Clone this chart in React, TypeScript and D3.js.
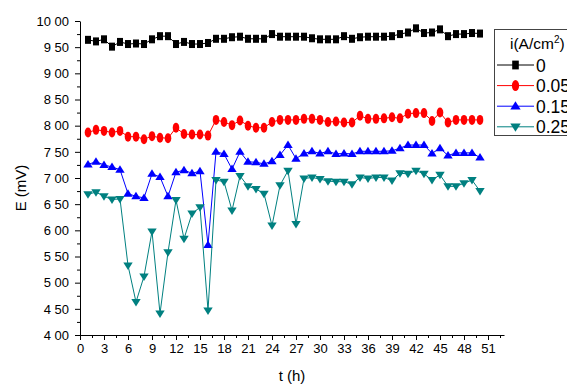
import React, { useEffect, useRef } from "react";
import * as d3 from "d3";

// time in hours
const hours = d3.range(1, 51);

// E (mV) for each current density
const e0 = [964, 961, 965, 951, 960, 956, 957, 956, 965, 971, 971, 956, 960, 956, 956, 958, 966, 966, 969, 970,
  966, 966, 966, 975, 970, 970, 970, 970, 967, 965, 965, 965, 971, 966, 969, 970, 970, 970, 971, 975,
  978, 986, 977, 978, 984, 971, 975, 975, 977, 976];
const e005 = [787, 792, 790, 787, 790, 779, 779, 774, 780, 777, 776, 796, 784, 783, 783, 781, 811, 807, 801, 810,
  800, 796, 796, 807, 811, 811, 811, 813, 813, 811, 807, 808, 806, 806, 819, 813, 813, 814, 816, 814,
  823, 824, 824, 809, 825, 806, 811, 811, 811, 811];
const e015 = [726, 731, 725, 721, 716, 670, 665, 662, 708, 702, 665, 711, 715, 709, 713, 572, 750, 746, 717, 750,
  731, 730, 727, 732, 744, 763, 737, 747, 751, 747, 751, 746, 747, 746, 751, 751, 751, 751, 752, 757,
  763, 763, 763, 747, 757, 743, 748, 748, 748, 739];
const e025 = [669, 673, 665, 659, 660, 533, 463, 512, 598, 441, 558, 658, 584, 632, 644, 447, 696, 693, 638, 704,
  684, 679, 670, 609, 686, 714, 612, 699, 701, 698, 694, 693, 693, 688, 701, 699, 701, 701, 695, 709,
  708, 714, 708, 696, 706, 684, 684, 690, 696, 675];

const seriesNames = ["0", "0.05", "0.15", "0.25"];
const seriesColors = ["#000000", "#ff0000", "#0000ff", "#008080"];
const seriesMarkers = ["square", "circle", "up", "down"];
const seriesValues = [e0, e005, e015, e025];

const xTicks = d3.range(0, 52, 3);
const yTicks = d3.range(400, 1001, 50);

const fontFamily = "'Liberation Sans', Arial, sans-serif";

function drawMarker(g: any, kind: string, cx: number, cy: number, color: string, s: number) {
  if (kind === "square") {
    g.append("rect").attr("x", cx - 3 * s).attr("y", cy - 4 * s)
      .attr("width", 6 * s).attr("height", 8 * s).attr("fill", color);
  } else if (kind === "circle") {
    g.append("ellipse").attr("cx", cx).attr("cy", cy)
      .attr("rx", 3.3 * s).attr("ry", 5 * s).attr("fill", color);
  } else if (kind === "up") {
    g.append("path")
      .attr("d", `M${cx - 4.7 * s},${cy + 3 * s}L${cx + 4.7 * s},${cy + 3 * s}L${cx},${cy - 4.5 * s}Z`)
      .attr("fill", color);
  } else {
    g.append("path")
      .attr("d", `M${cx - 4.7 * s},${cy - 3 * s}L${cx + 4.7 * s},${cy - 3 * s}L${cx},${cy + 4.5 * s}Z`)
      .attr("fill", color);
  }
}

export default function App() {
  const ref = useRef<SVGSVGElement>(null);

  useEffect(() => {
    const svg = d3.select(ref.current);
    svg.selectAll("*").remove();

    const x = d3.scaleLinear().domain([0, 53]).range([80, 504]);
    const y = d3.scaleLinear().domain([400, 1000]).range([335, 21]);

    // axes
    const xAxis = d3.axisBottom(x).tickValues(xTicks).tickSize(5).tickSizeOuter(0).tickPadding(4);
    const gx = svg.append("g").attr("transform", "translate(0,335)").call(xAxis);
    gx.selectAll("text").attr("font-size", 13).attr("font-family", fontFamily).attr("fill", "#000");

    const xMinor = d3.axisBottom(x).tickValues(d3.range(1.5, 53, 3)).tickSize(3).tickFormat(() => "").tickSizeOuter(0);
    svg.append("g").attr("transform", "translate(0,335)").call(xMinor).select(".domain").remove();

    const yAxis = d3.axisLeft(y).tickValues(yTicks).tickSize(5).tickSizeOuter(0).tickPadding(6)
      .tickFormat((d: any) => `${Math.floor(d / 100)} ${String(d % 100).padStart(2, "0")}`);
    const gy = svg.append("g").attr("transform", "translate(80,0)").call(yAxis);
    gy.selectAll("text").attr("font-size", 13).attr("font-family", fontFamily).attr("fill", "#000");

    const yMinor = d3.axisLeft(y).tickValues(d3.range(425, 1000, 50)).tickSize(3).tickFormat(() => "").tickSizeOuter(0);
    svg.append("g").attr("transform", "translate(80,0)").call(yMinor).select(".domain").remove();

    // labels
    svg.append("text").attr("x", 292).attr("y", 381).attr("text-anchor", "middle")
      .attr("font-size", 15).attr("font-family", fontFamily).text("t (h)");
    svg.append("text").attr("transform", "translate(26,188) rotate(-90)").attr("text-anchor", "middle")
      .attr("font-size", 15).attr("font-family", fontFamily).text("E (mV)");

    // series
    seriesValues.forEach((vals, i) => {
      const line = d3.line<number>().x((d, j) => x(hours[j])).y((d) => y(d));
      svg.append("path").datum(vals).attr("d", line).attr("fill", "none")
        .attr("stroke", seriesColors[i]).attr("stroke-width", 1);
      const g = svg.append("g");
      vals.forEach((v, j) => drawMarker(g, seriesMarkers[i], x(hours[j]), y(v), seriesColors[i], 1));
    });

    // legend
    const lg = svg.append("g");
    lg.append("rect").attr("x", 494.5).attr("y", 29.5).attr("width", 100).attr("height", 106)
      .attr("fill", "white").attr("stroke", "#444").attr("stroke-width", 1);
    const title = lg.append("text").attr("x", 510).attr("y", 49).attr("font-size", 15.5).attr("font-family", fontFamily);
    title.append("tspan").text("i(A/cm");
    title.append("tspan").attr("font-size", 10).attr("dy", -6).text("2");
    title.append("tspan").attr("dy", 6).text(")");
    seriesNames.forEach((name, i) => {
      const cy = 65 + i * 20.6;
      lg.append("line").attr("x1", 497).attr("x2", 534).attr("y1", cy).attr("y2", cy)
        .attr("stroke", seriesColors[i]).attr("stroke-width", 1);
      drawMarker(lg, seriesMarkers[i], 515.5, cy, seriesColors[i], 1.1);
      lg.append("text").attr("x", 536).attr("y", cy + 6.5).attr("font-size", 17.5)
        .attr("font-family", fontFamily).text(name);
    });
  }, []);

  return (
    <svg ref={ref} width={567} height={385}
      style={{ position: "absolute", left: 0, top: 0, background: "white" }} />
  );
}
